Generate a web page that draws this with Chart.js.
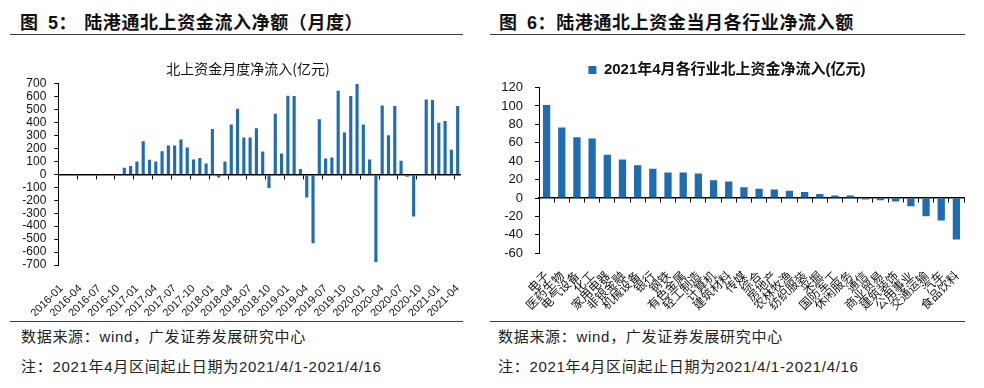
<!DOCTYPE html>
<html>
<head>
<meta charset="utf-8">
<script src="https://cdn.jsdelivr.net/npm/chart.js@4.4.1/dist/chart.umd.min.js"></script>
<style>
  html, body { margin: 0; padding: 0; background: #fff; width: 984px; height: 388px; overflow: hidden; }
  body { position: relative; }
  .hd { position: absolute; top: 10px; font: bold 18px "Noto Sans CJK SC"; color: #111; line-height: 22px; white-space: nowrap; letter-spacing: 0.6px; }
  .hd .n { font-family: "Liberation Sans", "Noto Sans CJK SC"; }
  .rule { position: absolute; height: 0; border-top: 1.5px solid #3c3c3c; }
  .src { position: absolute; font: 15px "Liberation Sans", "Noto Sans CJK SC"; color: #222; white-space: nowrap; line-height: 18px; letter-spacing: 0.7px; }
  canvas { position: absolute; }
</style>
</head>
<body>
<div class="hd" style="left:20px">图&nbsp;&nbsp;<span class="n">5</span>：<span style="margin-left:7px">陆港通北上资金流入净额（月度）</span></div>
<div class="hd" style="left:499px">图&nbsp;&nbsp;<span class="n">6</span>：陆港通北上资金当月各行业净流入额</div>
<div class="rule" style="left:10px; top:34px; width:453px"></div>
<div class="rule" style="left:490px; top:34px; width:475px"></div>

<canvas id="flowChart" width="456" height="268" style="left:20px; top:48px"></canvas>
<canvas id="sectorChart" width="500" height="260" style="left:490px; top:60px"></canvas>

<div class="rule" style="left:10px; top:321px; width:453px"></div>
<div class="rule" style="left:490px; top:321px; width:475px"></div>
<div class="src" style="left:21px; top:328px">数据来源：wind，广发证券发展研究中心</div>
<div class="src" style="left:21px; top:358px">注：2021年4月区间起止日期为2021/4/1-2021/4/16</div>
<div class="src" style="left:498px; top:328px">数据来源：wind，广发证券发展研究中心</div>
<div class="src" style="left:498px; top:358px">注：2021年4月区间起止日期为2021/4/1-2021/4/16</div>

<script>
// 月度数据 2016-01 ~ 2021-04
const months = [
  "2016-01","2016-02","2016-03","2016-04","2016-05","2016-06","2016-07","2016-08","2016-09","2016-10","2016-11","2016-12",
  "2017-01","2017-02","2017-03","2017-04","2017-05","2017-06","2017-07","2017-08","2017-09","2017-10","2017-11","2017-12",
  "2018-01","2018-02","2018-03","2018-04","2018-05","2018-06","2018-07","2018-08","2018-09","2018-10","2018-11","2018-12",
  "2019-01","2019-02","2019-03","2019-04","2019-05","2019-06","2019-07","2019-08","2019-09","2019-10","2019-11","2019-12",
  "2020-01","2020-02","2020-03","2020-04","2020-05","2020-06","2020-07","2020-08","2020-09","2020-10","2020-11","2020-12",
  "2021-01","2021-02","2021-03","2021-04"
];
const monthFlow = [
  null, null, null, null, null, null, null, null, null, null, 51, 64,
  100, 256, 113, 100, 179, 223, 223, 269, 208, 115, 126, 85,
  351, -23, 100, 385, 508, 285, 285, 356, 177, -105, 469, 162,
  608, 605, 41, -179, -531, 426, 123, 131, 646, 323, 605, 700,
  385, 115, -677, 533, 303, 528, 105, -18, -326, null, 579, 574,
  400, 413, 190, 528
];
const flowTicks = { min: -700, max: 700, step: 100 };

// 2021年4月 行业数据
const sectors = ["电子","医药生物","电气设备","化工","家用电器","非银金融","机械设备","银行","钢铁","有色金属",
  "轻工制造","计算机","建筑材料","传媒","综合","房地产","农林牧渔","纺织服装","采掘","国防军工",
  "休闲服务","通信","商业贸易","建筑装饰","公用事业","交通运输","汽车","食品饮料"];
const sectorFlow = [101, 76.5, 66, 64.5, 47, 41.7, 35.5, 31.7, 27.6, 27.6,
  26.6, 19.3, 17.9, 11.7, 10, 9.3, 7.9, 6.6, 4.5, 2.8,
  2.8, -1.7, -2.4, -3.8, -9, -19.7, -24.5, -45];
const sectorTicks = { min: -60, max: 120, step: 20 };

const BLUE = "#1f6db0";

new Chart(document.getElementById("flowChart"), {
  type: "bar",
  data: {
    labels: months,
    datasets: [{
      label: "北上资金月度净流入(亿元)",
      data: monthFlow,
      backgroundColor: BLUE,
      barPercentage: 0.5,
      categoryPercentage: 1
    }]
  },
  options: {
    responsive: false,
    animation: false,
    layout: { padding: { top: 0, right: 0, bottom: 0, left: 0 } },
    plugins: {
      legend: { display: false },
      tooltip: { enabled: false },
      title: {
        display: true,
        text: "北上资金月度净流入(亿元)",
        color: "#111",
        font: { family: "Noto Sans CJK SC", size: 14, weight: "normal" },
        padding: { top: 12, bottom: 7 }
      }
    },
    scales: {
      x: {
        position: "bottom",
        offset: true,
        grid: { display: false },
        border: { display: false },
        ticks: {
          autoSkip: false, maxRotation: 45, minRotation: 45, padding: 9,
          color: "#111", font: { family: "Liberation Sans", size: 11 },
          callback: function (v, i) { return i % 3 === 0 ? this.getLabelForValue(v) : ""; }
        },
        afterFit: function (s) { s.height = 51; }
      },
      x2: {
        type: "category",
        position: { y: 0 },
        offset: true,
        ticks: { display: false },
        grid: {
          offset: true, drawOnChartArea: false, tickLength: 4,
          color: function (c) { return c.index % 3 === 0 ? "#000" : "rgba(0,0,0,0)"; }
        },
        border: { color: "#000", width: 1.5 }
      },
      y: {
        min: flowTicks.min, max: flowTicks.max,
        ticks: { stepSize: flowTicks.step, autoSkip: false, padding: 8, color: "#111", font: { family: "Liberation Sans", size: 12 } },
        grid: { drawOnChartArea: false, tickLength: 4, color: "#000" },
        border: { color: "#000" },
        afterFit: function (s) { s.width = 38.3; }
      }
    }
  }
});

new Chart(document.getElementById("sectorChart"), {
  type: "bar",
  data: {
    labels: sectors,
    datasets: [{
      label: "2021年4月各行业北上资金净流入(亿元)",
      data: sectorFlow,
      backgroundColor: BLUE,
      barPercentage: 0.48,
      categoryPercentage: 1
    }]
  },
  options: {
    responsive: false,
    animation: false,
    layout: { padding: { top: 0, right: 26, bottom: 0, left: 0 } },
    plugins: {
      tooltip: { enabled: false },
      legend: {
        display: true,
        labels: {
          boxWidth: 8, boxHeight: 8, padding: 2.5, color: "#111",
          font: { family: "Liberation Sans, Noto Sans CJK SC", size: 15, weight: "bold" }
        }
      }
    },
    scales: {
      x: {
        position: "bottom",
        offset: true,
        grid: { display: false },
        border: { display: false },
        ticks: {
          autoSkip: false, maxRotation: 45, minRotation: 45, padding: 7,
          color: "#111", font: { family: "Noto Sans CJK SC", size: 12 }
        },
        afterFit: function (s) { s.height = 66.7; }
      },
      x2: {
        type: "category",
        position: { y: 0 },
        offset: true,
        ticks: { display: false },
        grid: { offset: true, drawOnChartArea: false, tickLength: 4, color: "#000" },
        border: { color: "#000", width: 1.5 }
      },
      y: {
        min: sectorTicks.min, max: sectorTicks.max,
        ticks: { stepSize: sectorTicks.step, autoSkip: false, padding: 12, color: "#111", font: { family: "Liberation Sans", size: 13 } },
        grid: { drawOnChartArea: false, tickLength: 4, color: "#000" },
        border: { color: "#000" },
        afterFit: function (s) { s.width = 49; }
      }
    }
  }
});
</script>
</body>
</html>
